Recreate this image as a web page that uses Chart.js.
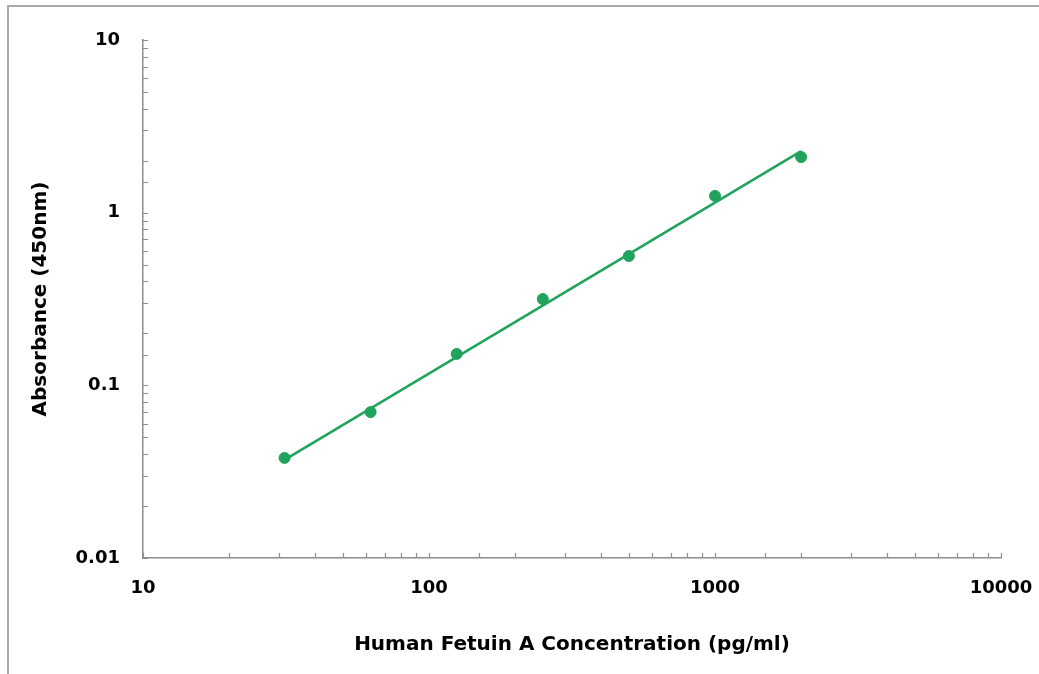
<!DOCTYPE html>
<html>
<head>
<meta charset="utf-8">
<script src="https://cdn.jsdelivr.net/npm/chart.js@4/dist/chart.umd.min.js"></script>
<style>
    html, body { margin: 0; padding: 0; background: #fff; }
    #wrap { position: relative; width: 1039px; height: 674px; overflow: hidden; }
    #frame {
        position: absolute; left: 7px; top: 5px; width: 1100px; height: 800px;
        border-top: 2px solid #a9a9a9; border-left: 2px solid #a9a9a9;
    }
    #stdCurve { position: absolute; left: 0; top: 0; }
</style>
</head>
<body>
<div id="wrap">
    <div id="frame"></div>
    <canvas id="stdCurve" width="1039" height="674"></canvas>
</div>
<script>
// standard curve values
const concentrations = [31.25, 62.5, 125, 250, 500, 1000, 2000];
const absorbance = [0.038, 0.070, 0.152, 0.316, 0.561, 1.25, 2.10];
// end points of the fitted trend line
const fitX = [31.25, 2000];
const fitY = [0.037, 2.27];
const xTickLabels = [10, 100, 1000, 10000];
const yTickLabels = [0.01, 0.1, 1, 10];

const green = 'rgb(32, 163, 92)';
const axisGrey = '#8c8c8c';
const fontFamily = 'DejaVu Sans, Verdana, sans-serif';
const tickFont = { family: fontFamily, weight: 'bold', size: 18 };
const titleFont = { family: fontFamily, weight: 'bold', size: 20 };

// tick marks point into the plot, like the original
const innerTicks = {
    id: 'innerTicks',
    afterDraw(chart) {
        const c = chart.ctx;
        const area = chart.chartArea;
        c.save();
        c.strokeStyle = axisGrey;
        c.lineWidth = 1.2;
        c.beginPath();
        chart.scales.x.ticks.forEach(t => {
            const px = Math.round(chart.scales.x.getPixelForValue(t.value)) + 0.5;
            c.moveTo(px, area.bottom);
            c.lineTo(px, area.bottom - 5);
        });
        chart.scales.y.ticks.forEach(t => {
            const py = Math.round(chart.scales.y.getPixelForValue(t.value)) + 0.5;
            c.moveTo(area.left, py);
            c.lineTo(area.left + 5, py);
        });
        c.stroke();
        c.restore();
    }
};

const ctx = document.getElementById('stdCurve').getContext('2d');

const myChart = new Chart(ctx, {
    type: 'scatter',
    data: {
        datasets: [
            {
                label: 'Fit',
                data: fitX.map((x, i) => ({ x: x, y: fitY[i] })),
                showLine: true,
                borderColor: green,
                borderWidth: 2.5,
                pointRadius: 0,
                fill: false
            },
            {
                label: 'Standards',
                data: concentrations.map((x, i) => ({ x: x, y: absorbance[i] })),
                backgroundColor: green,
                borderColor: green,
                pointRadius: 5.5,
                showLine: false
            }
        ]
    },
    options: {
        responsive: false,
        animation: false,
        devicePixelRatio: 1,
        layout: { padding: { top: 40, right: 38, left: 0, bottom: 0 } },
        plugins: {
            legend: { display: false },
            tooltip: { enabled: false }
        },
        scales: {
            x: {
                type: 'logarithmic',
                min: 10,
                max: 10000,
                afterFit: scale => {
                    scale.height = 116;
                    scale.paddingLeft = 0;
                    scale.paddingRight = 0;
                },
                border: { color: axisGrey, width: 1.5 },
                grid: { drawOnChartArea: false, drawTicks: false },
                ticks: {
                    autoSkip: false,
                    maxRotation: 0,
                    padding: 20,
                    color: '#000',
                    font: tickFont,
                    callback: value => xTickLabels.includes(value) ? String(value) : ''
                },
                title: {
                    display: true,
                    text: 'Human Fetuin A Concentration (pg/ml)',
                    color: '#000',
                    font: titleFont,
                    padding: { top: 0, bottom: 17 }
                }
            },
            y: {
                type: 'logarithmic',
                min: 0.01,
                max: 10,
                afterFit: scale => {
                    scale.width = 143;
                    scale.paddingTop = 0;
                    scale.paddingBottom = 0;
                },
                border: { color: axisGrey, width: 1.5 },
                grid: { drawOnChartArea: false, drawTicks: false },
                ticks: {
                    autoSkip: false,
                    padding: 23,
                    color: '#000',
                    font: tickFont,
                    callback: value => yTickLabels.includes(value) ? String(value) : ''
                },
                title: {
                    display: true,
                    text: 'Absorbance (450nm)',
                    color: '#000',
                    font: titleFont,
                    padding: { top: 29, bottom: 0 }
                }
            }
        }
    },
    plugins: [innerTicks]
});
</script>
</body>
</html>
